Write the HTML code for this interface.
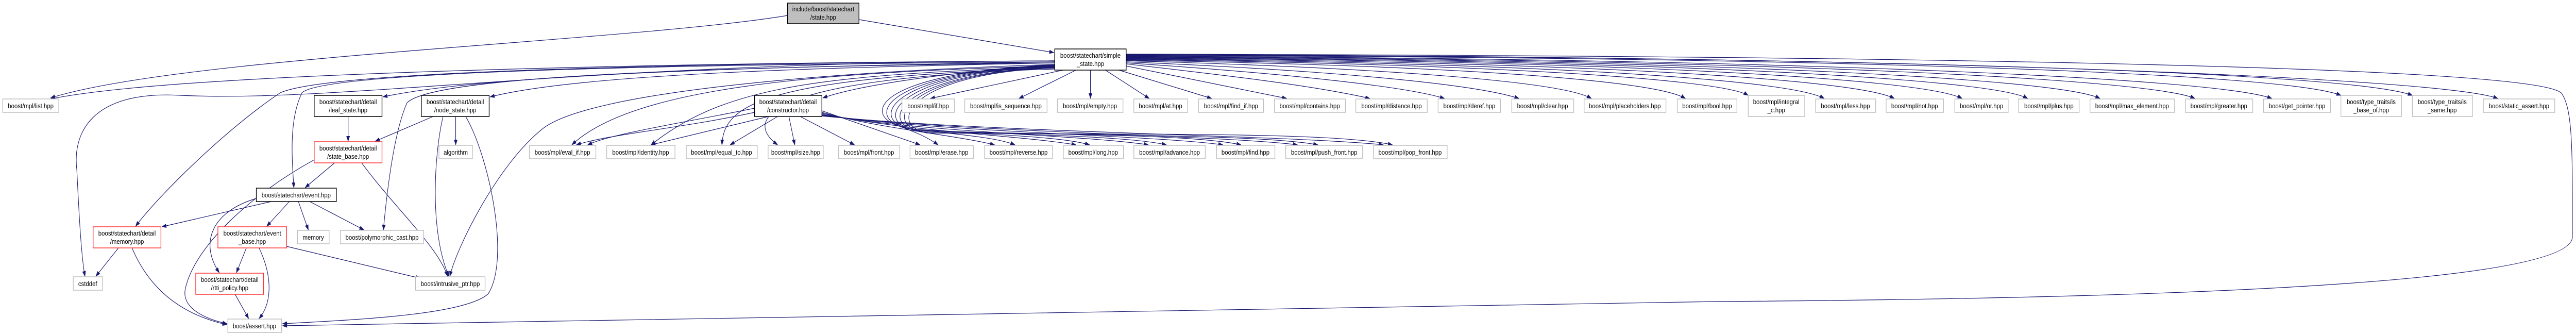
<!DOCTYPE html>
<html><head><meta charset="utf-8"><style>
html,body{margin:0;padding:0;background:#fff;width:100%;height:100%;overflow:hidden}
svg.main{display:block;width:100vw;height:100vh;position:absolute;left:0;top:0}
svg text{font-family:"Liberation Sans",sans-serif;font-size:13px;fill:#000;text-anchor:middle}
.n{fill:#fff;stroke:#bfbfbf;stroke-width:1.5}
.b{fill:#fff;stroke:#000;stroke-width:1.5}
.r{fill:#fff;stroke:#ff3030;stroke-width:1.5}
.g{fill:#bfbfbf;stroke:#000;stroke-width:1.5}
path.e{fill:none;stroke:#191970;stroke-width:1.2;marker-end:url(#a)}
</style></head><body>
<svg class="main" viewBox="0 0 5698 648" preserveAspectRatio="none" xmlns="http://www.w3.org/2000/svg">
<defs><marker id="a" markerWidth="11" markerHeight="8" refX="10" refY="4" orient="auto" markerUnits="userSpaceOnUse"><path d="M0,0 L11,4 L0,8z" fill="#191970"/></marker></defs>
<g>
<path class="e" d="M1742 30 C1400 80,400 110,112 190"/>
<path class="e" d="M1900 38 L2331 102"/>
<path class="e" d="M2333 118 C1500 122,400 140,112 192"/>
<path class="e" d="M2333 120 C1800 128,1100 140,847 188"/>
<path class="e" d="M2333 122 C1900 130,1300 140,1084 188"/>
<path class="e" d="M2333 125 C2100 140,1900 165,1820 190"/>
<path class="e" d="M2333 120 C1600 125,720 135,668 180 C640 230,645 300,650 364"/>
<path class="e" d="M2333 118 C1400 124,720 140,620 180 C500 250,350 380,300 439"/>
<path class="e" d="M2333 122 C1500 130,950 150,900 200 C870 260,855 380,848 446"/>
<path class="e" d="M2333 118 C1300 120,750 200,400 185 C200 175,160 260,170 330 C175 420,180 500,188 536"/>
<path class="e" d="M2333 125 C1800 140,1300 180,1200 250 C1100 320,1010 480,995 536"/>
<path class="e" d="M2333 128 C1800 140,1400 170,1265 281"/>
<path class="e" d="M2333 130 C1800 145,1600 170,1440 281"/>
<path class="e" d="M2333 132 C1700 150,1600 200,1597 281"/>
<path class="e" d="M2333 134 C1700 150,1640 230,1720 281"/>
<path class="e" d="M2333 126 C1950 140,1900 220,1990 245 C2020 255,2050 265,2075 281"/>
<path class="e" d="M2333 127 C1960 140,1910 225,2000 248 C2100 260,2200 265,2245 281"/>
<path class="e" d="M2333 128 C1970 140,1920 230,2010 250 C2200 262,2350 265,2410 281"/>
<path class="e" d="M2333 129 C1980 140,1930 235,2020 252 C2300 262,2500 265,2580 281"/>
<path class="e" d="M2333 130 C1990 142,1940 238,2030 254 C2400 262,2650 262,2745 281"/>
<path class="e" d="M2333 131 C2000 142,1950 240,2040 256 C2450 262,2800 262,2915 281"/>
<path class="e" d="M2333 132 C2010 142,1960 242,2050 258 C2500 262,2950 255,3080 281"/>
<path class="e" d="M2362 134 L2058 191"/>
<path class="e" d="M2380 136 L2254 191"/>
<path class="e" d="M2412 136 L2412 191"/>
<path class="e" d="M2445 136 L2542 191"/>
<path class="e" d="M2475 136 L2680 191"/>
<path class="e" d="M2491 128 L2846 191"/>
<path class="e" d="M2491 124 C2700 145,2900 165,3030 191"/>
<path class="e" d="M2491 122 C2800 140,3100 165,3195 191"/>
<path class="e" d="M2491 120 C2900 135,3250 160,3360 191"/>
<path class="e" d="M2491 118 C3000 130,3450 155,3520 191"/>
<path class="e" d="M2491 117 C3100 125,3650 150,3728 191"/>
<path class="e" d="M2491 116 C3200 122,3800 150,3867 185"/>
<path class="e" d="M2491 115 C3300 120,3950 150,4035 191"/>
<path class="e" d="M2491 114 C3400 118,4100 150,4190 191"/>
<path class="e" d="M2491 113 C3500 116,4250 150,4340 191"/>
<path class="e" d="M2491 112 C3600 115,4400 150,4485 191"/>
<path class="e" d="M2491 111 C3700 114,4550 150,4645 191"/>
<path class="e" d="M2491 110 C3800 113,4750 150,4855 191"/>
<path class="e" d="M2491 109 C3900 112,4900 150,5025 191"/>
<path class="e" d="M2491 108 C4000 110,5050 140,5178 185"/>
<path class="e" d="M2491 107 C4100 109,5200 140,5336 185"/>
<path class="e" d="M2491 106 C4200 108,5400 150,5525 191"/>
<path class="e" d="M2491 105 C4300 108,5600 130,5665 180 C5692 210,5690 300,5690 460 C5686 560,4600 580,3800 585 C2500 600,1200 615,625 632"/>
<path class="e" d="M1669 218 C1500 250,1350 260,1275 281"/>
<path class="e" d="M1700 226 L1440 281"/>
<path class="e" d="M1720 226 L1615 281"/>
<path class="e" d="M1745 226 L1758 281"/>
<path class="e" d="M1770 226 L1890 281"/>
<path class="e" d="M1818 215 L2035 281"/>
<path class="e" d="M1818 218 C1950 250,2100 260,2200 281"/>
<path class="e" d="M1818 220 C2000 255,2250 262,2380 281"/>
<path class="e" d="M1818 222 C2050 258,2400 262,2540 281"/>
<path class="e" d="M1818 223 C2100 258,2550 262,2705 281"/>
<path class="e" d="M1818 224 C2150 258,2700 262,2870 281"/>
<path class="e" d="M1818 225 C2200 258,2850 262,3060 281"/>
<path class="e" d="M1669 210 C1500 240,1350 260,1300 281"/>
<path class="e" d="M770 226 L770 274"/>
<path class="e" d="M958 226 L830 274"/>
<path class="e" d="M1008 226 L1008 281"/>
<path class="e" d="M980 226 C960 300,950 450,993 536"/>
<path class="e" d="M1030 226 C1080 300,1130 500,1080 570 C1030 610,800 620,625 628"/>
<path class="e" d="M740 316 L675 364"/>
<path class="e" d="M800 316 C870 400,970 480,990 536"/>
<path class="e" d="M695 310 C550 380,430 480,410 560 C400 600,460 620,502 628"/>
<path class="e" d="M600 391 L358 440"/>
<path class="e" d="M640 391 L590 439"/>
<path class="e" d="M660 391 L682 446"/>
<path class="e" d="M685 391 L805 446"/>
<path class="e" d="M567 385 C470 410,440 470,485 529"/>
<path class="e" d="M262 481 L212 536"/>
<path class="e" d="M292 481 C330 560,400 610,502 630"/>
<path class="e" d="M545 481 L523 529"/>
<path class="e" d="M573 481 C605 540,600 590,573 618"/>
<path class="e" d="M634 478 L930 540"/>
<path class="e" d="M520 571 L550 618"/>
</g>
<g>
<rect class="g" x="1742" y="6" width="158" height="40"/><text x="1821" y="22">include/boost/statechart</text><text x="1821" y="38">/state.hpp</text>
<rect class="b" x="2333" y="95" width="158" height="41"/><text x="2412" y="112">boost/statechart/simple</text><text x="2412" y="128">_state.hpp</text>
<rect class="n" x="6" y="192" width="124" height="26"/><text x="68" y="210">boost/mpl/list.hpp</text>
<rect class="b" x="695" y="185" width="150" height="41"/><text x="770" y="202">boost/statechart/detail</text><text x="770" y="218">/leaf_state.hpp</text>
<rect class="b" x="932" y="185" width="150" height="41"/><text x="1007" y="202">boost/statechart/detail</text><text x="1007" y="218">/node_state.hpp</text>
<rect class="b" x="1669" y="185" width="149" height="41"/><text x="1743" y="202">boost/statechart/detail</text><text x="1743" y="218">/constructor.hpp</text>
<rect class="r" x="695" y="275" width="150" height="41"/><text x="770" y="292">boost/statechart/detail</text><text x="770" y="308">/state_base.hpp</text>
<rect class="n" x="971" y="282" width="74" height="26"/><text x="1008" y="300">algorithm</text>
<rect class="n" x="1171" y="282" width="147" height="26"/><text x="1244" y="300">boost/mpl/eval_if.hpp</text>
<rect class="n" x="1342" y="282" width="151" height="26"/><text x="1417" y="300">boost/mpl/identity.hpp</text>
<rect class="n" x="1518" y="282" width="157" height="26"/><text x="1596" y="300">boost/mpl/equal_to.hpp</text>
<rect class="n" x="1699" y="282" width="122" height="26"/><text x="1760" y="300">boost/mpl/size.hpp</text>
<rect class="n" x="1855" y="282" width="135" height="26"/><text x="1922" y="300">boost/mpl/front.hpp</text>
<rect class="n" x="2013" y="282" width="140" height="26"/><text x="2083" y="300">boost/mpl/erase.hpp</text>
<rect class="n" x="2178" y="282" width="150" height="26"/><text x="2253" y="300">boost/mpl/reverse.hpp</text>
<rect class="n" x="2352" y="282" width="133" height="26"/><text x="2418" y="300">boost/mpl/long.hpp</text>
<rect class="n" x="2508" y="282" width="158" height="26"/><text x="2587" y="300">boost/mpl/advance.hpp</text>
<rect class="n" x="2691" y="282" width="129" height="26"/><text x="2755" y="300">boost/mpl/find.hpp</text>
<rect class="n" x="2844" y="282" width="170" height="26"/><text x="2929" y="300">boost/mpl/push_front.hpp</text>
<rect class="n" x="3038" y="282" width="163" height="26"/><text x="3119" y="300">boost/mpl/pop_front.hpp</text>
<rect class="b" x="567" y="365" width="177" height="26"/><text x="655" y="383">boost/statechart/event.hpp</text>
<rect class="r" x="206" y="440" width="150" height="41"/><text x="281" y="457">boost/statechart/detail</text><text x="281" y="473">/memory.hpp</text>
<rect class="r" x="482" y="440" width="152" height="41"/><text x="558" y="457">boost/statechart/event</text><text x="558" y="473">_base.hpp</text>
<rect class="n" x="658" y="447" width="70" height="26"/><text x="693" y="465">memory</text>
<rect class="n" x="753" y="447" width="184" height="26"/><text x="845" y="465">boost/polymorphic_cast.hpp</text>
<rect class="n" x="162" y="537" width="65" height="26"/><text x="194" y="555">cstddef</text>
<rect class="r" x="433" y="530" width="150" height="41"/><text x="508" y="547">boost/statechart/detail</text><text x="508" y="563">/rtti_policy.hpp</text>
<rect class="n" x="919" y="537" width="154" height="26"/><text x="996" y="555">boost/intrusive_ptr.hpp</text>
<rect class="n" x="504" y="619" width="119" height="26"/><text x="563" y="637">boost/assert.hpp</text>
<rect class="n" x="1995" y="192" width="116" height="26"/><text x="2053" y="210">boost/mpl/if.hpp</text>
<rect class="n" x="2134" y="192" width="182" height="26"/><text x="2225" y="210">boost/mpl/is_sequence.hpp</text>
<rect class="n" x="2339" y="192" width="145" height="26"/><text x="2411" y="210">boost/mpl/empty.hpp</text>
<rect class="n" x="2508" y="192" width="119" height="26"/><text x="2567" y="210">boost/mpl/at.hpp</text>
<rect class="n" x="2651" y="192" width="144" height="26"/><text x="2723" y="210">boost/mpl/find_if.hpp</text>
<rect class="n" x="2819" y="192" width="157" height="26"/><text x="2897" y="210">boost/mpl/contains.hpp</text>
<rect class="n" x="2999" y="192" width="158" height="26"/><text x="3078" y="210">boost/mpl/distance.hpp</text>
<rect class="n" x="3181" y="192" width="138" height="26"/><text x="3250" y="210">boost/mpl/deref.hpp</text>
<rect class="n" x="3344" y="192" width="137" height="26"/><text x="3412" y="210">boost/mpl/clear.hpp</text>
<rect class="n" x="3504" y="192" width="181" height="26"/><text x="3594" y="210">boost/mpl/placeholders.hpp</text>
<rect class="n" x="3710" y="192" width="132" height="26"/><text x="3776" y="210">boost/mpl/bool.hpp</text>
<rect class="n" x="3867" y="185" width="125" height="41"/><text x="3929" y="202">boost/mpl/integral</text><text x="3929" y="218">_c.hpp</text>
<rect class="n" x="4016" y="192" width="133" height="26"/><text x="4082" y="210">boost/mpl/less.hpp</text>
<rect class="n" x="4172" y="192" width="127" height="26"/><text x="4235" y="210">boost/mpl/not.hpp</text>
<rect class="n" x="4324" y="192" width="118" height="26"/><text x="4383" y="210">boost/mpl/or.hpp</text>
<rect class="n" x="4465" y="192" width="134" height="26"/><text x="4532" y="210">boost/mpl/plus.hpp</text>
<rect class="n" x="4623" y="192" width="187" height="26"/><text x="4716" y="210">boost/mpl/max_element.hpp</text>
<rect class="n" x="4834" y="192" width="149" height="26"/><text x="4908" y="210">boost/mpl/greater.hpp</text>
<rect class="n" x="5007" y="192" width="148" height="26"/><text x="5081" y="210">boost/get_pointer.hpp</text>
<rect class="n" x="5178" y="185" width="134" height="41"/><text x="5245" y="202">boost/type_traits/is</text><text x="5245" y="218">_base_of.hpp</text>
<rect class="n" x="5336" y="185" width="133" height="41"/><text x="5402" y="202">boost/type_traits/is</text><text x="5402" y="218">_same.hpp</text>
<rect class="n" x="5493" y="192" width="158" height="26"/><text x="5572" y="210">boost/static_assert.hpp</text>
</g>
</svg>
</body></html>
